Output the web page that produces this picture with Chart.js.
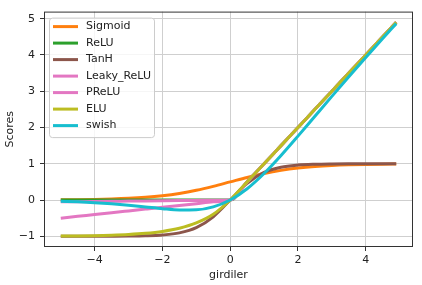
<!DOCTYPE html>
<html>
<head>
<meta charset="utf-8">
<script src="https://cdn.jsdelivr.net/npm/chart.js@4.4.1/dist/chart.umd.min.js"></script>
<style>
  html, body { margin: 0; padding: 0; background: #fff; }
</style>
</head>
<body>
<canvas id="chart" width="422" height="285"></canvas>
<script>
// inputs (girdiler) and the activation outputs
var inputs     = [-5, -4.5, -4, -3.5, -3, -2.5, -2, -1.5, -1, -0.5, 0, 0.5, 1, 1.5, 2, 2.5, 3, 3.5, 4, 4.5, 4.9];
var sigmoid    = [0.0067, 0.0110, 0.0180, 0.0293, 0.0474, 0.0759, 0.1192, 0.1824, 0.2689, 0.3775, 0.5, 0.6225, 0.7311, 0.8176, 0.8808, 0.9241, 0.9526, 0.9707, 0.9820, 0.9890, 0.9926];
var relu       = [0, 0, 0, 0, 0, 0, 0, 0, 0, 0, 0, 0.5, 1, 1.5, 2, 2.5, 3, 3.5, 4, 4.5, 4.9];
var tanh       = [-0.9999, -0.9998, -0.9993, -0.9982, -0.9951, -0.9866, -0.9640, -0.9051, -0.7616, -0.4621, 0, 0.4621, 0.7616, 0.9051, 0.9640, 0.9866, 0.9951, 0.9982, 0.9993, 0.9998, 0.9999];
var leakyRelu  = [-0.5, -0.45, -0.4, -0.35, -0.3, -0.25, -0.2, -0.15, -0.1, -0.05, 0, 0.5, 1, 1.5, 2, 2.5, 3, 3.5, 4, 4.5, 4.9];
var prelu      = [-0.05, -0.045, -0.04, -0.035, -0.03, -0.025, -0.02, -0.015, -0.01, -0.005, 0, 0.5, 1, 1.5, 2, 2.5, 3, 3.5, 4, 4.5, 4.9];
var elu        = [-0.9933, -0.9889, -0.9817, -0.9698, -0.9502, -0.9179, -0.8647, -0.7769, -0.6321, -0.3935, 0, 0.5, 1, 1.5, 2, 2.5, 3, 3.5, 4, 4.5, 4.9];
var swish      = [-0.0335, -0.0497, -0.0719, -0.1027, -0.1423, -0.1897, -0.2384, -0.2736, -0.2689, -0.1888, 0, 0.3112, 0.7311, 1.2264, 1.7616, 2.3103, 2.8577, 3.3973, 3.9281, 4.4504, 4.8635];

var seriesNames  = ["Sigmoid", "ReLU", "TanH", "Leaky_ReLU", "PReLU", "ELU", "swish"];
var seriesValues = [sigmoid, relu, tanh, leakyRelu, prelu, elu, swish];
var seriesColors = ["#ff7f0e", "#2ca02c", "#8c564b", "#e377c2", "#e377c2", "#bcbd22", "#17becf"];

var xTicks = [-4, -2, 0, 2, 4];
var yTicks = [-1, 0, 1, 2, 3, 4, 5];

var FONT = "DejaVu Sans";

function fmt(v) {
  return v < 0 ? "\u2212" + Math.abs(v) : String(v);
}

var datasets = seriesNames.map(function (name, i) {
  return {
    label: name,
    data: inputs.map(function (x, j) { return { x: x, y: seriesValues[i][j] }; }),
    borderColor: seriesColors[i],
    backgroundColor: seriesColors[i],
    borderWidth: 3,
    pointRadius: 0,
    cubicInterpolationMode: "monotone",
    fill: false,
    // matplotlib draws later series on top
    order: seriesNames.length - i
  };
});

// frame around the axes, like matplotlib spines
var framePlugin = {
  id: "frame",
  afterDatasetsDraw: function (chart) {
    var a = chart.chartArea, ctx = chart.ctx;
    ctx.save();
    ctx.strokeStyle = "#333";
    ctx.lineWidth = 1;
    ctx.strokeRect(a.left + 0.5, a.top + 0.5, a.right - a.left - 1, a.bottom - a.top - 1);
    ctx.restore();
  }
};

// legend box in the upper-left corner
var legendPlugin = {
  id: "boxLegend",
  afterDraw: function (chart) {
    var a = chart.chartArea, ctx = chart.ctx;
    var left = a.left + 5, top = a.top + 6, w = 105, rowH = 16.5;
    var h = rowH * seriesNames.length + 4;
    ctx.save();
    ctx.beginPath();
    ctx.roundRect(left + 0.5, top + 0.5, w, h, 3);
    ctx.fillStyle = "rgba(255,255,255,0.8)";
    ctx.fill();
    ctx.strokeStyle = "#cccccc";
    ctx.lineWidth = 1;
    ctx.stroke();
    ctx.font = "11px " + FONT;
    ctx.textBaseline = "middle";
    seriesNames.forEach(function (name, i) {
      var y = top + 9 + rowH * i;
      ctx.beginPath();
      ctx.moveTo(left + 4, y);
      ctx.lineTo(left + 29, y);
      ctx.strokeStyle = seriesColors[i];
      ctx.lineWidth = 3;
      ctx.stroke();
      ctx.fillStyle = "#222";
      ctx.fillText(name, left + 37, y);
    });
    ctx.restore();
  }
};

new Chart(document.getElementById("chart"), {
  type: "line",
  data: { datasets: datasets },
  plugins: [framePlugin, legendPlugin],
  options: {
    responsive: false,
    animation: false,
    devicePixelRatio: 1,
    layout: { padding: { left: 0, top: 7, right: 9, bottom: 0 } },
    plugins: { legend: { display: false }, tooltip: { enabled: false } },
    scales: {
      x: {
        type: "linear",
        min: -5.495,
        max: 5.395,
        afterBuildTicks: function (s) { s.ticks = xTicks.map(function (v) { return { value: v }; }); },
        afterFit: function (s) { s.height = 38; },
        ticks: { callback: fmt, font: { family: FONT, size: 11 }, color: "#222", padding: 3, maxRotation: 0, autoSkip: false },
        grid: { color: "#cfcfcf", lineWidth: 1, tickLength: 4, tickColor: "#333" },
        border: { display: false },
        title: { display: true, text: "girdiler", font: { family: FONT, size: 11 }, color: "#222", padding: { top: 0, bottom: 3 } }
      },
      y: {
        type: "linear",
        min: -1.295,
        max: 5.195,
        afterBuildTicks: function (s) { s.ticks = yTicks.map(function (v) { return { value: v }; }); },
        afterFit: function (s) { s.width = 44; },
        ticks: { callback: fmt, font: { family: FONT, size: 11 }, color: "#222", padding: 5, autoSkip: false },
        grid: { color: "#cfcfcf", lineWidth: 1, tickLength: 4, tickColor: "#333" },
        border: { display: false },
        title: { display: true, text: "Scores", font: { family: FONT, size: 11 }, color: "#222", padding: { top: 4, bottom: 0 } }
      }
    }
  }
});
</script>
</body>
</html>
